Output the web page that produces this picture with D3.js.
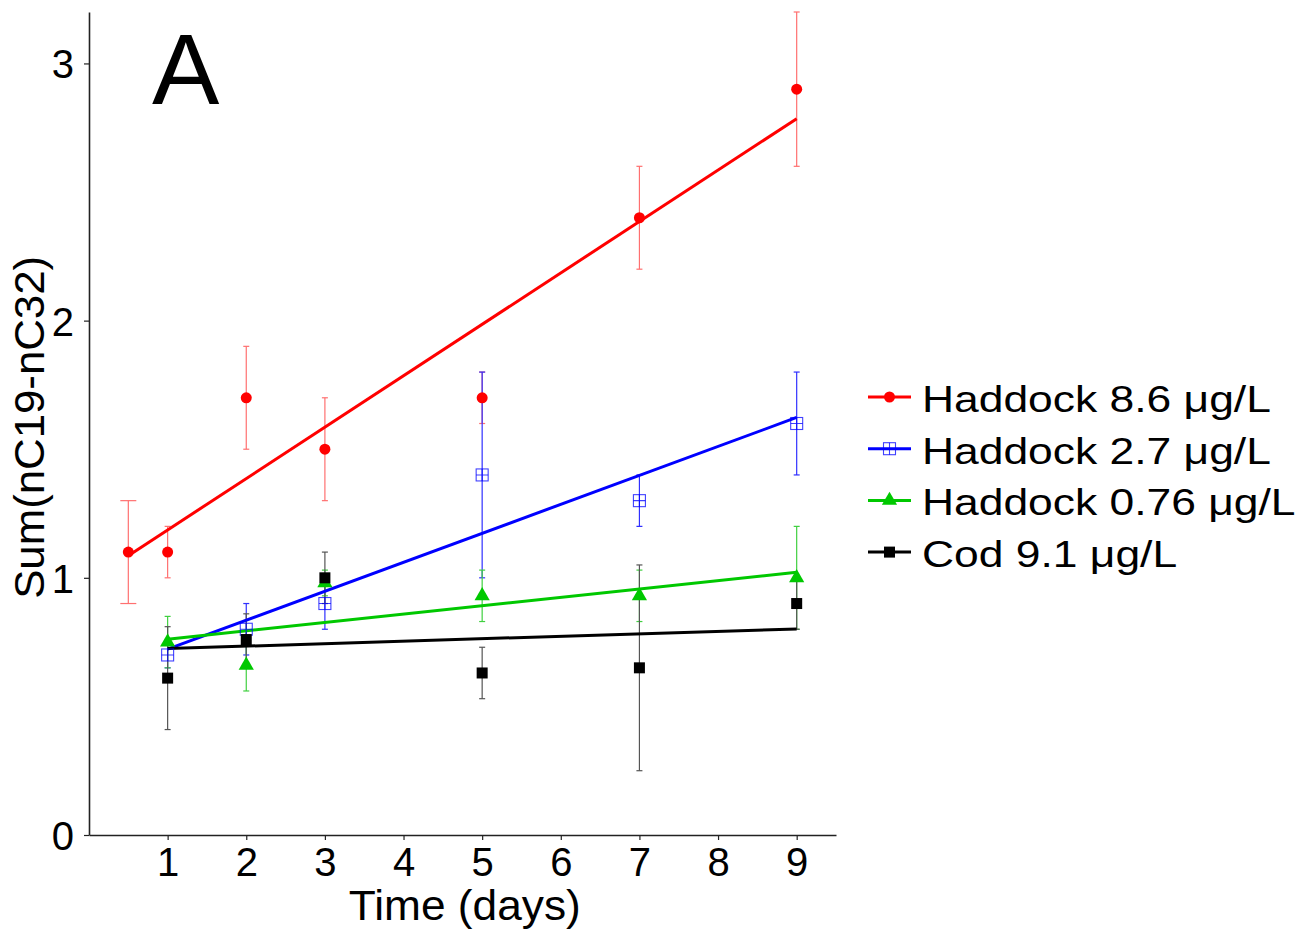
<!DOCTYPE html>
<html>
<head>
<meta charset="utf-8">
<script src="https://cdn.jsdelivr.net/npm/d3@7"></script>
<style>
  html, body { margin: 0; padding: 0; background: #fff; }
  svg { display: block; font-family: "Liberation Sans", Arial, sans-serif; }
</style>
</head>
<body>
<div id="chart"></div>
<script>
// values
const seriesNames = ['Haddock 8.6 μg/L', 'Haddock 2.7 μg/L', 'Haddock 0.76 μg/L', 'Cod 9.1 μg/L'];
const seriesColors = ['#ff0000', '#0000ff', '#00c800', '#000000'];
const errColors = ['#ff7070', '#3030ff', '#40d040', '#555555'];
const seriesShapes = ['circle', 'boxplus', 'triangle', 'square'];

const redDays = [0.5, 1, 2, 3, 5, 7, 9];
const redMean = [1.1, 1.1, 1.7, 1.5, 1.7, 2.4, 2.9];
const redErr = [0.2, 0.1, 0.2, 0.2, 0.1, 0.2, 0.3];

const blueDays = [1, 2, 3, 5, 7, 9];
const blueMean = [0.7, 0.8, 0.9, 1.4, 1.3, 1.6];
const blueErr = [0.05, 0.1, 0.1, 0.4, 0.1, 0.2];

const greenDays = [1, 2, 3, 5, 7, 9];
const greenMean = [0.75, 0.66, 0.98, 0.93, 0.93, 1.0];
const greenErr = [0.1, 0.1, 0.05, 0.1, 0.1, 0.2];

const codDays = [1, 2, 3, 5, 7, 9];
const codMean = [0.61, 0.76, 1.0, 0.63, 0.65, 0.9];
const codErr = [0.2, 0.1, 0.1, 0.1, 0.4, 0.1];

const xTicks = [1, 2, 3, 4, 5, 6, 7, 8, 9];
const yTicks = [0, 1, 2, 3];

const allDays = [redDays, blueDays, greenDays, codDays];
const allMean = [redMean, blueMean, greenMean, codMean];
const allErr = [redErr, blueErr, greenErr, codErr];

const series = seriesNames.map((name, i) => ({
  name, color: seriesColors[i], errColor: errColors[i], shape: seriesShapes[i],
  pts: allDays[i].map((d, j) => ({ x: d, y: allMean[i][j], e: allErr[i][j] }))
}));

// least-squares fit, as drawn in the figure
function fit(pts) {
  const mx = d3.mean(pts, p => p.x), my = d3.mean(pts, p => p.y);
  const sxy = d3.sum(pts, p => (p.x - mx) * (p.y - my));
  const sxx = d3.sum(pts, p => (p.x - mx) ** 2);
  const b = sxy / sxx, a = my - b * mx;
  const [x0, x1] = d3.extent(pts, p => p.x);
  return [{ x: x0, y: a + b * x0 }, { x: x1, y: a + b * x1 }];
}

const W = 1314, H = 930;
const M = { t: 12, l: 89, r: 478, b: 95 };
const svg = d3.select('#chart').append('svg').attr('width', W).attr('height', H);

const x = d3.scaleLinear().domain([0, 9.5]).range([M.l, W - M.r]);
const y = d3.scaleLinear().domain([0, 3.2]).range([H - M.b, M.t]);

// axes
const axColor = '#222';
const gx = svg.append('g').attr('transform', `translate(0,${H - M.b})`)
  .call(d3.axisBottom(x).tickValues(xTicks).tickFormat(d3.format('d')).tickSize(5).tickPadding(7).tickSizeOuter(0));
const gy = svg.append('g').attr('transform', `translate(${M.l},0)`)
  .call(d3.axisLeft(y).tickValues(yTicks).tickFormat(d3.format('d')).tickSize(5).tickPadding(10).tickSizeOuter(0));
[gx, gy].forEach(g => {
  g.select('.domain').attr('stroke', axColor).attr('stroke-width', 1.6);
  g.selectAll('.tick line').attr('stroke', axColor).attr('stroke-width', 1.2);
  g.selectAll('.tick text').attr('fill', '#000').style('font-size', '40px').style('font-family', '"Liberation Sans", Arial, sans-serif');
});
gx.selectAll('.tick text').attr('dy', '0.72em');
gy.selectAll('.tick text').attr('dy', '0.36em');

svg.append('text').attr('x', x(4.78)).attr('y', 920).attr('text-anchor', 'middle')
  .style('font-size', '43px').text('Time (days)')
  .attr('textLength', 232).attr('lengthAdjust', 'spacingAndGlyphs');
svg.append('text').attr('transform', `translate(44,${y(1.585)}) rotate(-90)`).attr('text-anchor', 'middle')
  .style('font-size', '42px').text('Sum(nC19-nC32)')
  .attr('textLength', 343).attr('lengthAdjust', 'spacingAndGlyphs');
svg.append('text').attr('x', 152).attr('y', 104).style('font-size', '101px').text('A');

// error bars
const gErr = svg.append('g');
series.forEach((s, si) => {
  s.pts.forEach((p, j) => {
    const cw = (si === 0 && j === 0) ? 8 : 3;
    const g = gErr.append('g').attr('stroke', s.errColor).attr('stroke-width', 1.2);
    g.append('line').attr('x1', x(p.x)).attr('x2', x(p.x)).attr('y1', y(p.y - p.e)).attr('y2', y(p.y + p.e));
    g.append('line').attr('x1', x(p.x) - cw).attr('x2', x(p.x) + cw).attr('y1', y(p.y - p.e)).attr('y2', y(p.y - p.e));
    g.append('line').attr('x1', x(p.x) - cw).attr('x2', x(p.x) + cw).attr('y1', y(p.y + p.e)).attr('y2', y(p.y + p.e));
  });
});

// fit lines
const line = d3.line().x(p => x(p.x)).y(p => y(p.y));
series.forEach(s => {
  svg.append('path').attr('d', line(fit(s.pts))).attr('fill', 'none').attr('stroke', s.color).attr('stroke-width', 3);
});

function drawMarker(g, shape, color, cx, cy) {
  if (shape === 'circle') {
    g.append('circle').attr('cx', cx).attr('cy', cy).attr('r', 5.5).attr('fill', color);
  } else if (shape === 'square') {
    g.append('rect').attr('x', cx - 5.5).attr('y', cy - 5.5).attr('width', 11).attr('height', 11).attr('fill', color);
  } else if (shape === 'triangle') {
    g.append('path').attr('d', d3.symbol(d3.symbolTriangle, 100)()).attr('transform', `translate(${cx},${cy})`).attr('fill', color);
  } else {
    const h = 6;
    g.append('rect').attr('x', cx - h).attr('y', cy - h).attr('width', 2 * h).attr('height', 2 * h)
      .attr('fill', 'none').attr('stroke', color).attr('stroke-width', 1.1).attr('opacity', 0.75);
    g.append('path').attr('d', `M${cx - h},${cy}H${cx + h}M${cx},${cy - h}V${cy + h}`)
      .attr('stroke', color).attr('stroke-width', 1.1).attr('opacity', 0.75);
  }
}

// points
series.forEach(s => {
  const g = svg.append('g');
  s.pts.forEach(p => drawMarker(g, s.shape, s.color, x(p.x), y(p.y)));
});

// legend
const legend = svg.append('g').attr('transform', 'translate(868,397)');
series.forEach((s, i) => {
  const row = legend.append('g').attr('transform', `translate(0,${i * 51.7})`);
  row.append('line').attr('x1', 0).attr('x2', 43).attr('stroke', s.color).attr('stroke-width', 3);
  drawMarker(row, s.shape, s.color, 21.5, 0);
  row.append('text').attr('x', 54).attr('y', 15).style('font-size', '37px').text(s.name)
    .attr('transform', 'translate(54,0) scale(1.2,1) translate(-54,0)');
});
</script>
</body>
</html>
